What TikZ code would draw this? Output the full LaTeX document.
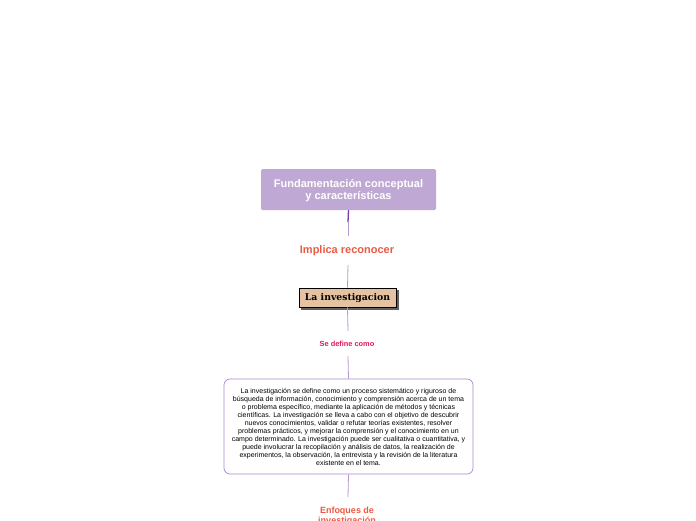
\documentclass[tikz,border=0pt]{standalone}
\usepackage{fontspec}
\usetikzlibrary{backgrounds}
\setmainfont{Liberation Sans}
\newfontfamily\titleserif{DejaVu Serif}
\definecolor{lav}{HTML}{C0A8D4}
\definecolor{lavline}{HTML}{B898D0}
\definecolor{darkpurp}{HTML}{7A3AB0}
\definecolor{redor}{HTML}{EB5A44}
\definecolor{crim}{HTML}{E0185A}
\definecolor{tan}{HTML}{E4C2A2}
\definecolor{boxborder}{HTML}{A888CC}
\tikzset{
  conn/.style={draw=lavline, line width=0.8pt},
  lbl/.style={font=\bfseries, text=redor, align=center, inner sep=1pt},
}
\begin{document}
\begin{tikzpicture}[x=1pt,y=-1pt]
\useasboundingbox (0,0) rectangle (696,520);
\clip (0,0) rectangle (696,520);
% top box
\node[fill=lav, rounded corners=1.5pt, minimum width=175pt, minimum height=41pt, inner sep=0pt] (top) at (348.5,189.5) {};
\node[text=white, font=\bfseries\fontsize{11}{12}\selectfont, align=center, inner sep=0pt] (toptext) at (348.5,191)
  {Fundamentación conceptual\\y características};
\node[lbl, font=\bfseries\fontsize{11}{12}\selectfont] (impl) at (347,251) {Implica reconocer};
\node[fill=tan, draw=black, line width=0.6pt, minimum width=97pt, minimum height=19pt, inner sep=0pt,
  font=\titleserif\bfseries\fontsize{9.3}{10}\selectfont] (inv) at (347.5,297.5) {La investigacion};
\begin{scope}[on background layer]
\fill[gray!75!black] ([shift={(2.5,2.5)}]inv.south west) rectangle ([shift={(2.5,2.5)}]inv.north east);
\end{scope}
\node[font=\bfseries\fontsize{7.4}{8}\selectfont, text=crim, inner sep=1pt] (sdc) at (347,344) {Se define como};
\node[draw=boxborder, line width=0.7pt, rounded corners=6pt, fill=white, minimum width=249pt, minimum height=95pt,
  inner sep=0pt, align=center, font=\fontsize{7}{8}\selectfont] (def) at (348.5,426.5)
  {La investigación se define como un proceso sistemático y riguroso de\\
búsqueda de información, conocimiento y comprensión acerca de un tema\\
o problema específico, mediante la aplicación de métodos y técnicas\\
científicas. La investigación se lleva a cabo con el objetivo de descubrir\\
nuevos conocimientos, validar o refutar teorías existentes, resolver\\
problemas prácticos, y mejorar la comprensión y el conocimiento en un\\
campo determinado. La investigación puede ser cualitativa o cuantitativa, y\\
puede involucrar la recopilación y análisis de datos, la realización de\\
experimentos, la observación, la entrevista y la revisión de la literatura\\
existente en el tema.};
\node[lbl, font=\bfseries\fontsize{9}{9.5}\selectfont] (enf) at (347,516) {Enfoques de\\investigación};
% connectors
\coordinate (t1) at (348,222);
\coordinate (t2) at (348,236);
\coordinate (i1) at (348,265);
\coordinate (s1) at (348,331);
\coordinate (s2) at (348,356);
\coordinate (e1) at (348,497);
\draw[draw=darkpurp, line width=1.3pt] (top.south) -- (t1);
\draw[conn] (t1) -- (t2);
\draw[conn] (i1) -- (inv.north);
\draw[conn] (inv.south) -- (s1);
\draw[conn] (s2) -- (def.north);
\draw[conn] (def.south) -- (e1);
\end{tikzpicture}
\end{document}
